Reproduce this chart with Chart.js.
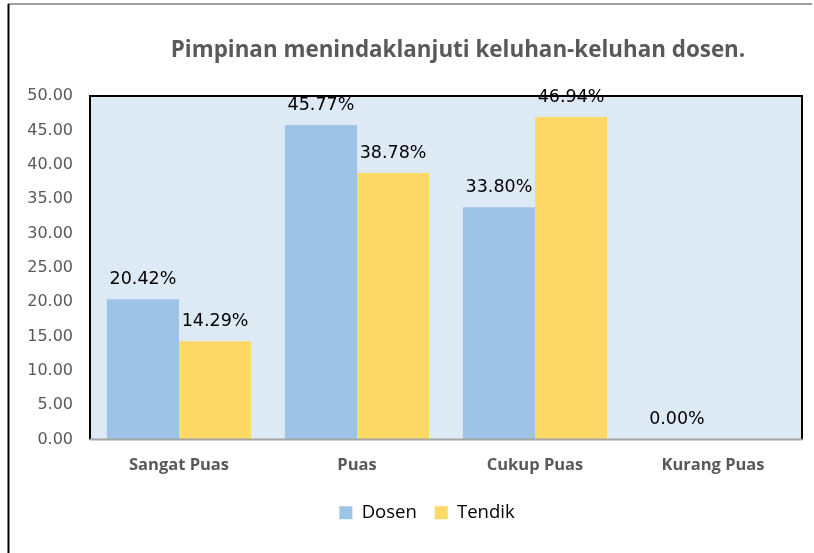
<!DOCTYPE html>
<html>
<head>
<meta charset="utf-8">
<script src="https://cdn.jsdelivr.net/npm/chart.js@4.4.1/dist/chart.umd.min.js"></script>
<style>
  html, body { margin: 0; padding: 0; background: #fff; overflow: hidden; }
  #wrap { position: relative; width: 814px; height: 553px; }
  canvas { display: block; }
</style>
</head>
<body>
<div id="wrap"><canvas id="chart" width="814" height="553"></canvas></div>
<script>
// data
var categories = ['Sangat Puas', 'Puas', 'Cukup Puas', 'Kurang Puas'];
var dosen = [20.42, 45.77, 33.80, 0.00];
var tendik = [14.29, 38.78, 46.94, null];
var yTicks = [0, 5, 10, 15, 20, 25, 30, 35, 40, 45, 50];
var chartTitle = 'Pimpinan menindaklanjuti keluhan-keluhan dosen.';

// frame, plot background, border, title, value labels
var decor = {
    id: 'decor',
    afterLayout: function (chart) {
        // legend sits a bit right of the canvas centre
        if (chart.legend) {
            chart.legend.left += 26;
            chart.legend.right += 26;
        }
    },
    beforeDraw: function (chart) {
        var ctx = chart.ctx, a = chart.chartArea;
        ctx.save();
        ctx.fillStyle = '#fff';
        ctx.fillRect(0, 0, chart.width, chart.height);
        // outer frame
        ctx.strokeStyle = '#7f7f7f';
        ctx.lineWidth = 1.5;
        ctx.beginPath();
        ctx.moveTo(8, 4);
        ctx.lineTo(812, 4);
        ctx.stroke();
        ctx.strokeStyle = '#000';
        ctx.lineWidth = 2;
        ctx.beginPath();
        ctx.moveTo(8.5, 4);
        ctx.lineTo(8.5, 553);
        ctx.stroke();
        // plot area
        ctx.fillStyle = '#dde9f5';
        ctx.fillRect(a.left, a.top, a.right - a.left, a.bottom - a.top);
        // title
        ctx.fillStyle = '#595959';
        ctx.font = 'bold 22.4px "Open Sans"';
        ctx.textAlign = 'center';
        ctx.textBaseline = 'alphabetic';
        ctx.fillText(chartTitle, 458, 57);
        ctx.restore();
    },
    afterDatasetsDraw: function (chart) {
        var ctx = chart.ctx, a = chart.chartArea;
        ctx.save();
        ctx.strokeStyle = '#000';
        ctx.lineWidth = 2;
        ctx.beginPath();
        ctx.moveTo(a.left, a.bottom);
        ctx.lineTo(a.left, a.top);
        ctx.lineTo(a.right, a.top);
        ctx.lineTo(a.right, a.bottom);
        ctx.stroke();
        ctx.strokeStyle = '#a6a6a6';
        ctx.beginPath();
        ctx.moveTo(a.left, a.bottom);
        ctx.lineTo(a.right, a.bottom);
        ctx.stroke();
        // value labels
        ctx.fillStyle = '#000';
        ctx.font = '17.5px "DejaVu Sans"';
        ctx.textAlign = 'center';
        ctx.textBaseline = 'middle';
        chart.data.datasets.forEach(function (ds, i) {
            chart.getDatasetMeta(i).data.forEach(function (bar, j) {
                var v = ds.data[j];
                if (v === null || v === undefined) return;
                ctx.fillText(v.toFixed(2) + '%', bar.x, bar.y - 20);
            });
        });
        ctx.restore();
    }
};

new Chart(document.getElementById('chart'), {
    type: 'bar',
    data: {
        labels: categories,
        datasets: [
            { label: 'Dosen', data: dosen, backgroundColor: '#9dc3e6' },
            { label: 'Tendik', data: tendik, backgroundColor: '#ffd966' }
        ]
    },
    options: {
        responsive: false,
        animation: false,
        layout: { padding: { left: 0, right: 12, top: 96, bottom: 21 } },
        datasets: { bar: { categoryPercentage: 0.81, barPercentage: 1.0 } },
        scales: {
            x: {
                grid: { display: false, drawTicks: false },
                border: { display: false },
                ticks: {
                    padding: 16,
                    color: '#595959',
                    font: { family: 'Open Sans', size: 16.5, weight: 'bold' }
                },
                afterFit: function (scale) { scale.height = 46; }
            },
            y: {
                min: 0,
                max: 50,
                grid: { display: false, drawTicks: false },
                border: { display: false },
                afterBuildTicks: function (scale) {
                    scale.ticks = yTicks.map(function (v) { return { value: v }; });
                },
                ticks: {
                    padding: 17,
                    color: '#595959',
                    font: { family: 'DejaVu Sans', size: 16 },
                    callback: function (v) { return Number(v).toFixed(2); }
                },
                afterFit: function (scale) { scale.width = 90; }
            }
        },
        plugins: {
            title: { display: false },
            tooltip: { enabled: false },
            legend: {
                position: 'bottom',
                labels: {
                    boxWidth: 13,
                    boxHeight: 13,
                    padding: 18,
                    color: '#000',
                    font: { family: 'Open Sans', size: 18.5 }
                }
            }
        }
    },
    plugins: [decor]
});
</script>
</body>
</html>
